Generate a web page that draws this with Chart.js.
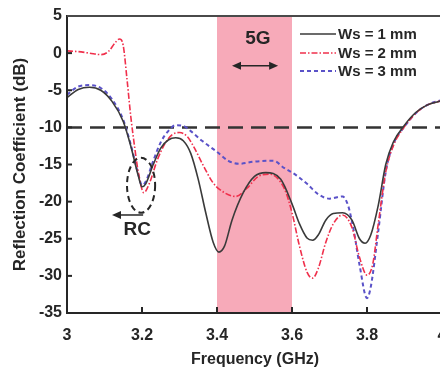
<!DOCTYPE html>
<html>
<head>
<meta charset="utf-8">
<script src="https://cdn.jsdelivr.net/npm/chart.js@4.4.0/dist/chart.umd.min.js"></script>
<style>
html, body { margin: 0; padding: 0; overflow: hidden; background: #fff; }
canvas { display: block; }
</style>
</head>
<body>
<canvas id="chart" width="470" height="369"></canvas>
<script>
// values
var seriesLabels = ['Ws = 1 mm', 'Ws = 2 mm', 'Ws = 3 mm'];

var freq1 = [3.00, 3.03, 3.06, 3.09, 3.12, 3.15, 3.17, 3.19, 3.20, 3.21, 3.23, 3.25, 3.27, 3.29, 3.31, 3.33, 3.35, 3.37, 3.39, 3.405, 3.42, 3.44, 3.47, 3.50, 3.53, 3.57, 3.60, 3.62, 3.64, 3.655, 3.67, 3.69, 3.71, 3.735, 3.76, 3.78, 3.795, 3.81, 3.83, 3.85, 3.87, 3.90, 3.93, 3.96, 4.00];
var ws1 = [-6.0, -4.9, -4.6, -5.0, -6.5, -9.2, -12.5, -16.5, -18.0, -17.6, -15.0, -12.8, -11.7, -11.4, -11.8, -13.5, -17.0, -21.5, -25.5, -26.8, -26.0, -22.5, -18.8, -16.6, -16.1, -17.0, -20.3, -23.0, -24.9, -25.2, -24.5, -22.5, -21.6, -21.5, -22.5, -25.0, -25.6, -24.5, -20.5, -15.0, -12.0, -9.7, -8.0, -7.0, -6.4];

var freq2 = [3.00, 3.03, 3.06, 3.09, 3.11, 3.13, 3.14, 3.15, 3.16, 3.17, 3.18, 3.19, 3.205, 3.22, 3.24, 3.26, 3.28, 3.30, 3.32, 3.34, 3.36, 3.39, 3.42, 3.45, 3.48, 3.51, 3.54, 3.58, 3.60, 3.62, 3.64, 3.655, 3.67, 3.69, 3.71, 3.735, 3.76, 3.78, 3.80, 3.815, 3.83, 3.85, 3.87, 3.90, 3.93, 3.96, 4.00];
var ws2 = [0.3, 0.2, 0.0, -0.2, 0.2, 1.5, 1.9, 1.0, -3.5, -8.5, -12.5, -16.0, -18.8, -17.5, -14.5, -12.3, -11.0, -10.7, -11.2, -12.8, -14.8, -17.5, -18.8, -19.3, -18.2, -16.6, -16.3, -18.3, -21.5, -26.0, -29.5, -30.3, -29.0, -25.5, -23.0, -21.8, -23.5, -27.5, -29.9, -28.5, -23.0, -16.0, -12.5, -9.9, -8.1, -7.0, -6.4];

var freq3 = [3.00, 3.03, 3.06, 3.09, 3.12, 3.15, 3.17, 3.19, 3.20, 3.21, 3.23, 3.25, 3.27, 3.29, 3.31, 3.33, 3.36, 3.40, 3.43, 3.46, 3.50, 3.55, 3.58, 3.61, 3.64, 3.67, 3.70, 3.735, 3.75, 3.765, 3.78, 3.80, 3.81, 3.83, 3.85, 3.87, 3.90, 3.93, 3.96, 4.00];
var ws3 = [-5.6, -4.5, -4.3, -4.7, -6.2, -9.0, -12.3, -16.3, -17.8, -17.3, -14.5, -12.0, -10.5, -9.7, -9.8, -10.5, -11.8, -13.3, -14.5, -14.9, -14.6, -14.5, -15.5, -16.4, -17.6, -19.0, -19.6, -19.3, -20.6, -24.0, -28.5, -33.0, -31.5, -24.0, -16.0, -12.3, -9.9, -8.1, -7.0, -6.3];

var band5G = [3.4, 3.6];
var threshold = -10;
var xTicks = [3, 3.2, 3.4, 3.6, 3.8, 4];
var xTickLabels = ['3', '3.2', '3.4', '3.6', '3.8', '4'];
var yTicks = [-35, -30, -25, -20, -15, -10, -5, 0, 5];

var font = '"Liberation Sans", Arial, sans-serif';
var ink = '#262626';

function pts(xs, ys) {
  return xs.map(function(v, i) { return { x: v, y: ys[i] }; });
}

function curve(label, xs, ys, color, dash, width, order) {
  return {
    label: label,
    data: pts(xs, ys),
    borderColor: color,
    borderWidth: width,
    borderDash: dash,
    pointRadius: 0,
    fill: false,
    cubicInterpolationMode: 'monotone',
    order: order
  };
}

var extras = {
  id: 'extras',
  afterDraw: function(chart) {
    var ctx = chart.ctx, sx = chart.scales.x, sy = chart.scales.y, a = chart.chartArea;
    ctx.save();

    // top frame
    ctx.strokeStyle = '#4a4a4a';
    ctx.lineWidth = 2;
    ctx.beginPath(); ctx.moveTo(a.left, a.top); ctx.lineTo(a.right, a.top); ctx.stroke();

    // inward ticks
    ctx.strokeStyle = ink;
    ctx.lineWidth = 2;
    yTicks.slice(1, -1).forEach(function(v) {
      var py = sy.getPixelForValue(v);
      ctx.beginPath(); ctx.moveTo(a.left, py); ctx.lineTo(a.left + 5, py); ctx.stroke();
    });
    xTicks.slice(1, -1).forEach(function(v) {
      var px = sx.getPixelForValue(v);
      ctx.beginPath(); ctx.moveTo(px, a.bottom); ctx.lineTo(px, a.bottom - 6); ctx.stroke();
    });

    // RC ellipse
    var ex1 = sx.getPixelForValue(3.16), ex2 = sx.getPixelForValue(3.235);
    var ey1 = sy.getPixelForValue(-14.1), ey2 = sy.getPixelForValue(-21.5);
    ctx.setLineDash([6, 4]);
    ctx.lineWidth = 2;
    ctx.beginPath();
    ctx.ellipse((ex1 + ex2) / 2, (ey1 + ey2) / 2, (ex2 - ex1) / 2, (ey2 - ey1) / 2, 0, 0, Math.PI * 2);
    ctx.stroke();
    ctx.setLineDash([]);

    function arrowHead(x, y, dir) {
      ctx.beginPath();
      ctx.moveTo(x, y);
      ctx.lineTo(x - dir * 9, y - 4);
      ctx.lineTo(x - dir * 9, y + 4);
      ctx.closePath();
      ctx.fill();
    }
    ctx.fillStyle = ink;
    ctx.lineWidth = 1.5;

    // RC arrow
    var ay = sy.getPixelForValue(-21.8);
    var ax1 = sx.getPixelForValue(3.203), ax2 = sx.getPixelForValue(3.12);
    ctx.beginPath(); ctx.moveTo(ax1, ay); ctx.lineTo(ax2 + 6, ay); ctx.stroke();
    arrowHead(ax2, ay, -1);

    // 5G arrow
    var gy = sy.getPixelForValue(-1.7);
    var gx1 = sx.getPixelForValue(3.44), gx2 = sx.getPixelForValue(3.563);
    ctx.beginPath(); ctx.moveTo(gx1 + 6, gy); ctx.lineTo(gx2 - 6, gy); ctx.stroke();
    arrowHead(gx1, gy, -1);
    arrowHead(gx2, gy, 1);

    ctx.textAlign = 'center';
    ctx.textBaseline = 'middle';
    ctx.font = 'bold 19px ' + font;
    ctx.fillText('5G', sx.getPixelForValue(3.509), sy.getPixelForValue(2.0));
    ctx.fillText('RC', sx.getPixelForValue(3.187), sy.getPixelForValue(-23.8));

    // legend
    ctx.font = 'bold 15px ' + font;
    ctx.textAlign = 'left';
    var rows = [34, 53, 71];
    chart.data.datasets.slice(0, 3).forEach(function(ds, i) {
      ctx.strokeStyle = ds.borderColor;
      ctx.lineWidth = ds.borderWidth;
      ctx.setLineDash(ds.borderDash || []);
      ctx.beginPath(); ctx.moveTo(300, rows[i]); ctx.lineTo(336, rows[i]); ctx.stroke();
      ctx.setLineDash([]);
      ctx.fillStyle = ink;
      ctx.fillText(ds.label, 338, rows[i] + 1);
    });

    // axis titles
    ctx.font = 'bold 17px ' + font;
    ctx.textAlign = 'center';
    ctx.save();
    ctx.translate(20, (a.top + a.bottom) / 2);
    ctx.rotate(-Math.PI / 2);
    ctx.fillText('Reflection Coefficient (dB)', 0, 0);
    ctx.restore();
    ctx.font = 'bold 16px ' + font;
    ctx.fillText('Frequency (GHz)', 255, 360);

    ctx.restore();
  }
};

var ctx = document.getElementById('chart');
var chart = new Chart(ctx, {
  type: 'line',
  data: {
    datasets: [
      curve(seriesLabels[0], freq1, ws1, '#3a3a3a', [], 1.6, 0),
      curve(seriesLabels[1], freq2, ws2, '#f0304c', [6, 2, 1.5, 2], 1.6, 1),
      curve(seriesLabels[2], freq3, ws3, '#5a52c8', [4, 3], 2, 2),
      {
        label: '-10 dB',
        data: [{ x: xTicks[0], y: threshold }, { x: xTicks[xTicks.length - 1], y: threshold }],
        borderColor: '#333',
        borderWidth: 2.5,
        borderDash: [15, 8],
        pointRadius: 0,
        fill: false,
        order: 5
      },
      {
        label: '5G',
        data: [{ x: band5G[0], y: yTicks[yTicks.length - 1] }, { x: band5G[1], y: yTicks[yTicks.length - 1] }],
        borderWidth: 0,
        borderColor: 'rgba(0,0,0,0)',
        backgroundColor: '#f7aab9',
        pointRadius: 0,
        fill: 'start',
        order: 10
      }
    ]
  },
  options: {
    responsive: false,
    animation: false,
    layout: { padding: { top: 16, right: 28, left: 0, bottom: 0 } },
    plugins: {
      legend: { display: false },
      tooltip: { enabled: false }
    },
    scales: {
      x: {
        type: 'linear',
        min: 3,
        max: 4,
        afterFit: function(scale) { scale.height = 56; },
        afterBuildTicks: function(scale) { scale.ticks = xTicks.map(function(v) { return { value: v }; }); },
        grid: { display: false, drawTicks: false },
        border: { display: true, color: ink, width: 2, z: 1 },
        ticks: {
          padding: 13, color: ink, font: { family: font, size: 16, weight: 'bold' }, maxRotation: 0,
          callback: function(v) { var i = xTicks.indexOf(v); return i >= 0 ? xTickLabels[i] : ''; }
        }
      },
      y: {
        min: -35,
        max: 5,
        afterFit: function(scale) { scale.width = 67; },
        afterBuildTicks: function(scale) { scale.ticks = yTicks.map(function(v) { return { value: v }; }); },
        grid: { display: false, drawTicks: false },
        border: { display: true, color: ink, width: 2, z: 1 },
        ticks: { padding: 5, color: ink, font: { family: font, size: 16, weight: 'bold' } }
      }
    }
  },
  plugins: [extras]
});
</script>
</body>
</html>
